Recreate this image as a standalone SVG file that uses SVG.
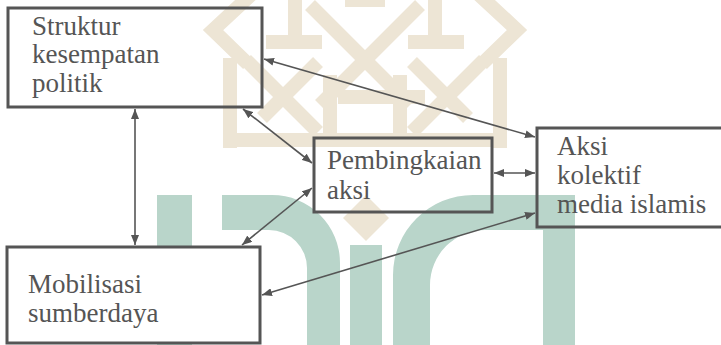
<svg xmlns="http://www.w3.org/2000/svg" width="721" height="345" viewBox="0 0 721 345">
  <style>
    .box { fill: none; stroke: #555; stroke-width: 3; }
    .lbl { font-family: "Liberation Serif", serif; font-size: 27px; fill: #555; }
    .link { fill: none; stroke: #555; stroke-width: 1.6; marker-start: url(#head); marker-end: url(#head); }
    .knot { fill: none; stroke: #ede5d5; stroke-width: 14; stroke-linecap: butt; }
    .leaf { fill: #b9d5ca; }
  </style>
  <defs>
    <marker id="head" viewBox="0 0 10 8" refX="10" refY="4" markerWidth="10" markerHeight="8" markerUnits="userSpaceOnUse" orient="auto-start-reverse">
      <path d="M0,0 L10,4 L0,8 Z" fill="#555"/>
    </marker>
  </defs>

  <rect width="721" height="345" fill="#fff"/>

  <!-- background emblem: interlaced knot -->
  <g id="emblem-knot" class="knot">
    <polyline points="254,-8 213,30 248,64"/>
    <polyline points="476,-8 517,30 482,64"/>
    <line x1="230" y1="58" x2="230" y2="148"/>
    <line x1="500" y1="58" x2="500" y2="148"/>
    <line x1="223" y1="140" x2="507" y2="140"/>
    <line x1="266" y1="42" x2="322" y2="42"/>
    <line x1="408" y1="42" x2="464" y2="42"/>
    <line x1="295" y1="0" x2="295" y2="48"/>
    <line x1="435" y1="0" x2="435" y2="48"/>
    <line x1="246" y1="60" x2="318" y2="132"/>
    <line x1="484" y1="60" x2="412" y2="132"/>
    <line x1="262" y1="118" x2="318" y2="62"/>
    <line x1="468" y1="118" x2="412" y2="62"/>
    <line x1="310" y1="5" x2="365" y2="60"/>
    <line x1="420" y1="5" x2="365" y2="60"/>
    <line x1="365" y1="60" x2="320" y2="105"/>
    <line x1="365" y1="60" x2="410" y2="105"/>
    <line x1="338" y1="97" x2="425" y2="97"/>
    <line x1="345" y1="0" x2="385" y2="0"/>
    <line x1="330" y1="75" x2="330" y2="133"/>
    <line x1="400" y1="75" x2="400" y2="133"/>
  </g>
  <path d="M366,195 L389,218 L366,241 L343,218 Z" fill="#ede5d5"/>

  <!-- background emblem: letters -->
  <g id="emblem-letters">
    <rect class="leaf" x="157" y="195" width="35" height="150"/>
    <path class="leaf" d="M222,195 H272 A68,68 0 0 1 340,263 V345 H307 V268 A38,38 0 0 0 269,230 H222 Z"/>
    <rect class="leaf" x="350" y="245" width="32" height="100"/>
    <path class="leaf" d="M393,345 V275 A80,80 0 0 1 473,195 H575 V345 H543 V230 H485 A55,55 0 0 0 430,285 V345 Z"/>
  </g>

  <g id="struktur">
    <rect class="box" x="8" y="8" width="254" height="99"/>
    <text class="lbl" x="32" y="35">Struktur</text>
    <text class="lbl" x="32" y="63">kesempatan</text>
    <text class="lbl" x="32" y="92">politik</text>
  </g>

  <g id="pembingkaian">
    <rect class="box" x="314" y="138" width="178" height="74"/>
    <text class="lbl" x="327" y="169">Pembingkaian</text>
    <text class="lbl" x="327" y="199">aksi</text>
  </g>

  <g id="aksi">
    <rect class="box" x="537" y="128" width="190" height="99"/>
    <text class="lbl" x="557" y="155">Aksi</text>
    <text class="lbl" x="557" y="184">kolektif</text>
    <text class="lbl" x="557" y="213">media islamis</text>
  </g>

  <g id="mobilisasi">
    <rect class="box" x="7" y="247" width="253" height="96" style="fill:#fff"/>
    <text class="lbl" x="28" y="293">Mobilisasi</text>
    <text class="lbl" x="28" y="322">sumberdaya</text>
  </g>

  <g id="connectors">
    <line class="link" x1="135" y1="109" x2="135" y2="245"/>
    <line class="link" x1="243" y1="109" x2="312" y2="163"/>
    <line class="link" x1="264" y1="59" x2="535" y2="137"/>
    <line class="link" x1="494" y1="173" x2="535" y2="173"/>
    <line class="link" x1="312" y1="188" x2="242" y2="245"/>
    <line class="link" x1="535" y1="213" x2="262" y2="295"/>
  </g>
</svg>
